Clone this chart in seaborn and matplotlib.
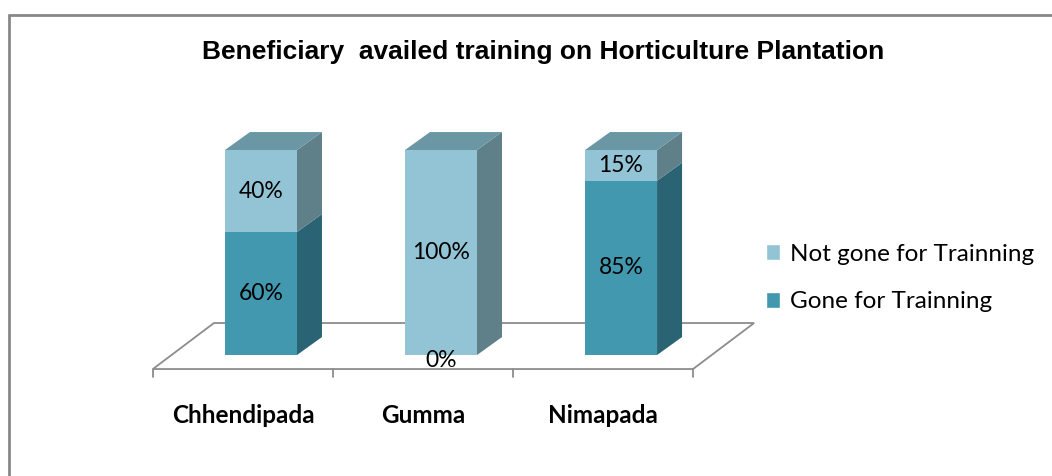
import seaborn as sns
import matplotlib.pyplot as plt
from matplotlib.patches import Polygon, Patch
from matplotlib.lines import Line2D

# data
blocks = ['Chhendipada', 'Gumma', 'Nimapada']
gone = [60, 0, 85]
not_gone = [40, 100, 15]
series = ['Not gone for Trainning', 'Gone for Trainning']

light = '#93c4d6'
light_top = '#6b97a4'
light_side = '#5f7f89'
dark = '#4198af'
dark_side = '#2a6474'

sns.set_style("white")
plt.rcParams['font.family'] = ['Lato', 'DejaVu Sans']
plt.rcParams['text.color'] = 'black'

fig = plt.figure(figsize=(10.52, 4.76), dpi=100)
ax = fig.add_axes([100/1052, 40/476, 700/1052, 410/476])

# front faces
totals = [g + n for g, n in zip(gone, not_gone)]
sns.barplot(x=blocks, y=totals, color=light, width=0.4, saturation=1, linewidth=0, ax=ax, zorder=3)
sns.barplot(x=blocks, y=gone, color=dark, width=0.4, saturation=1, linewidth=0, ax=ax, zorder=3)

ax.set_xlim(-0.894, 2.994)
ax.set_ylim(-39.5, 160.5)
ax.axis('off')

w = 0.4
dx, dy = 25/180, 18/2.05

# floor
fy0, fy1 = -14/2.05, -14/2.05 + 46/2.05
fx0, fx1, fdx = -0.6, 2.4, 61/180
ax.add_patch(Polygon([(fx0, fy0), (fx1, fy0), (fx1 + fdx, fy1), (fx0 + fdx, fy1)],
                     closed=True, facecolor='white', edgecolor='#8c8c8c', lw=1.3, zorder=1))
for i in range(4):
    ax.plot([fx0 + i, fx0 + i], [fy0, fy0 - 8/2.05], color='#8c8c8c', lw=1.3, zorder=1)

# sides and tops
for i in range(len(blocks)):
    xr = i + w/2
    segs = [(0, gone[i], dark_side), (gone[i], totals[i], light_side)]
    for b, t, c in segs:
        if t > b:
            ax.add_patch(Polygon([(xr, b), (xr + dx, b + dy), (xr + dx, t + dy), (xr, t)],
                                 closed=True, facecolor=c, edgecolor='none', zorder=2))
    t = totals[i]
    ax.add_patch(Polygon([(i - w/2, t), (i - w/2 + dx, t + dy), (xr + dx, t + dy), (xr, t)],
                         closed=True, facecolor=light_top, edgecolor='none', zorder=2))

# value labels
for i in range(len(blocks)):
    if gone[i] > 0:
        ax.text(i, gone[i]/2, f'{gone[i]}%', ha='center', va='center', fontsize=16.5, zorder=5)
    else:
        ax.text(i, -2.5, f'{gone[i]}%', ha='center', va='center', fontsize=16.5, zorder=5)
    ax.text(i, gone[i] + not_gone[i]/2, f'{not_gone[i]}%', ha='center', va='center', fontsize=16.5, zorder=5)

# category labels
for i, b in enumerate(blocks):
    ax.text(i - 0.1, -29.3, b, ha='center', va='center', fontsize=17.5, fontweight='bold')

fig.text(543/1052, 1 - 52/476, 'Beneficiary  availed training on Horticulture Plantation',
         ha='center', va='center', fontsize=19, fontweight='bold', family='Liberation Sans')

handles = [Patch(facecolor=light), Patch(facecolor=dark)]
fig.legend(handles, series, loc='center left', bbox_to_anchor=(744/1052, 1 - 278/476),
           frameon=False, fontsize=17.5, handlelength=0.6, handleheight=0.6,
           handletextpad=0.4, labelspacing=1.1)

# outer border (only top and left visible)
fig.add_artist(Line2D([9/1052, 9/1052], [0, 1 - 14.5/476], color='#888888', lw=2))
fig.add_artist(Line2D([9/1052, 1], [1 - 14.5/476, 1 - 14.5/476], color='#888888', lw=2))

fig.savefig('out.png', dpi=100, facecolor='white')
